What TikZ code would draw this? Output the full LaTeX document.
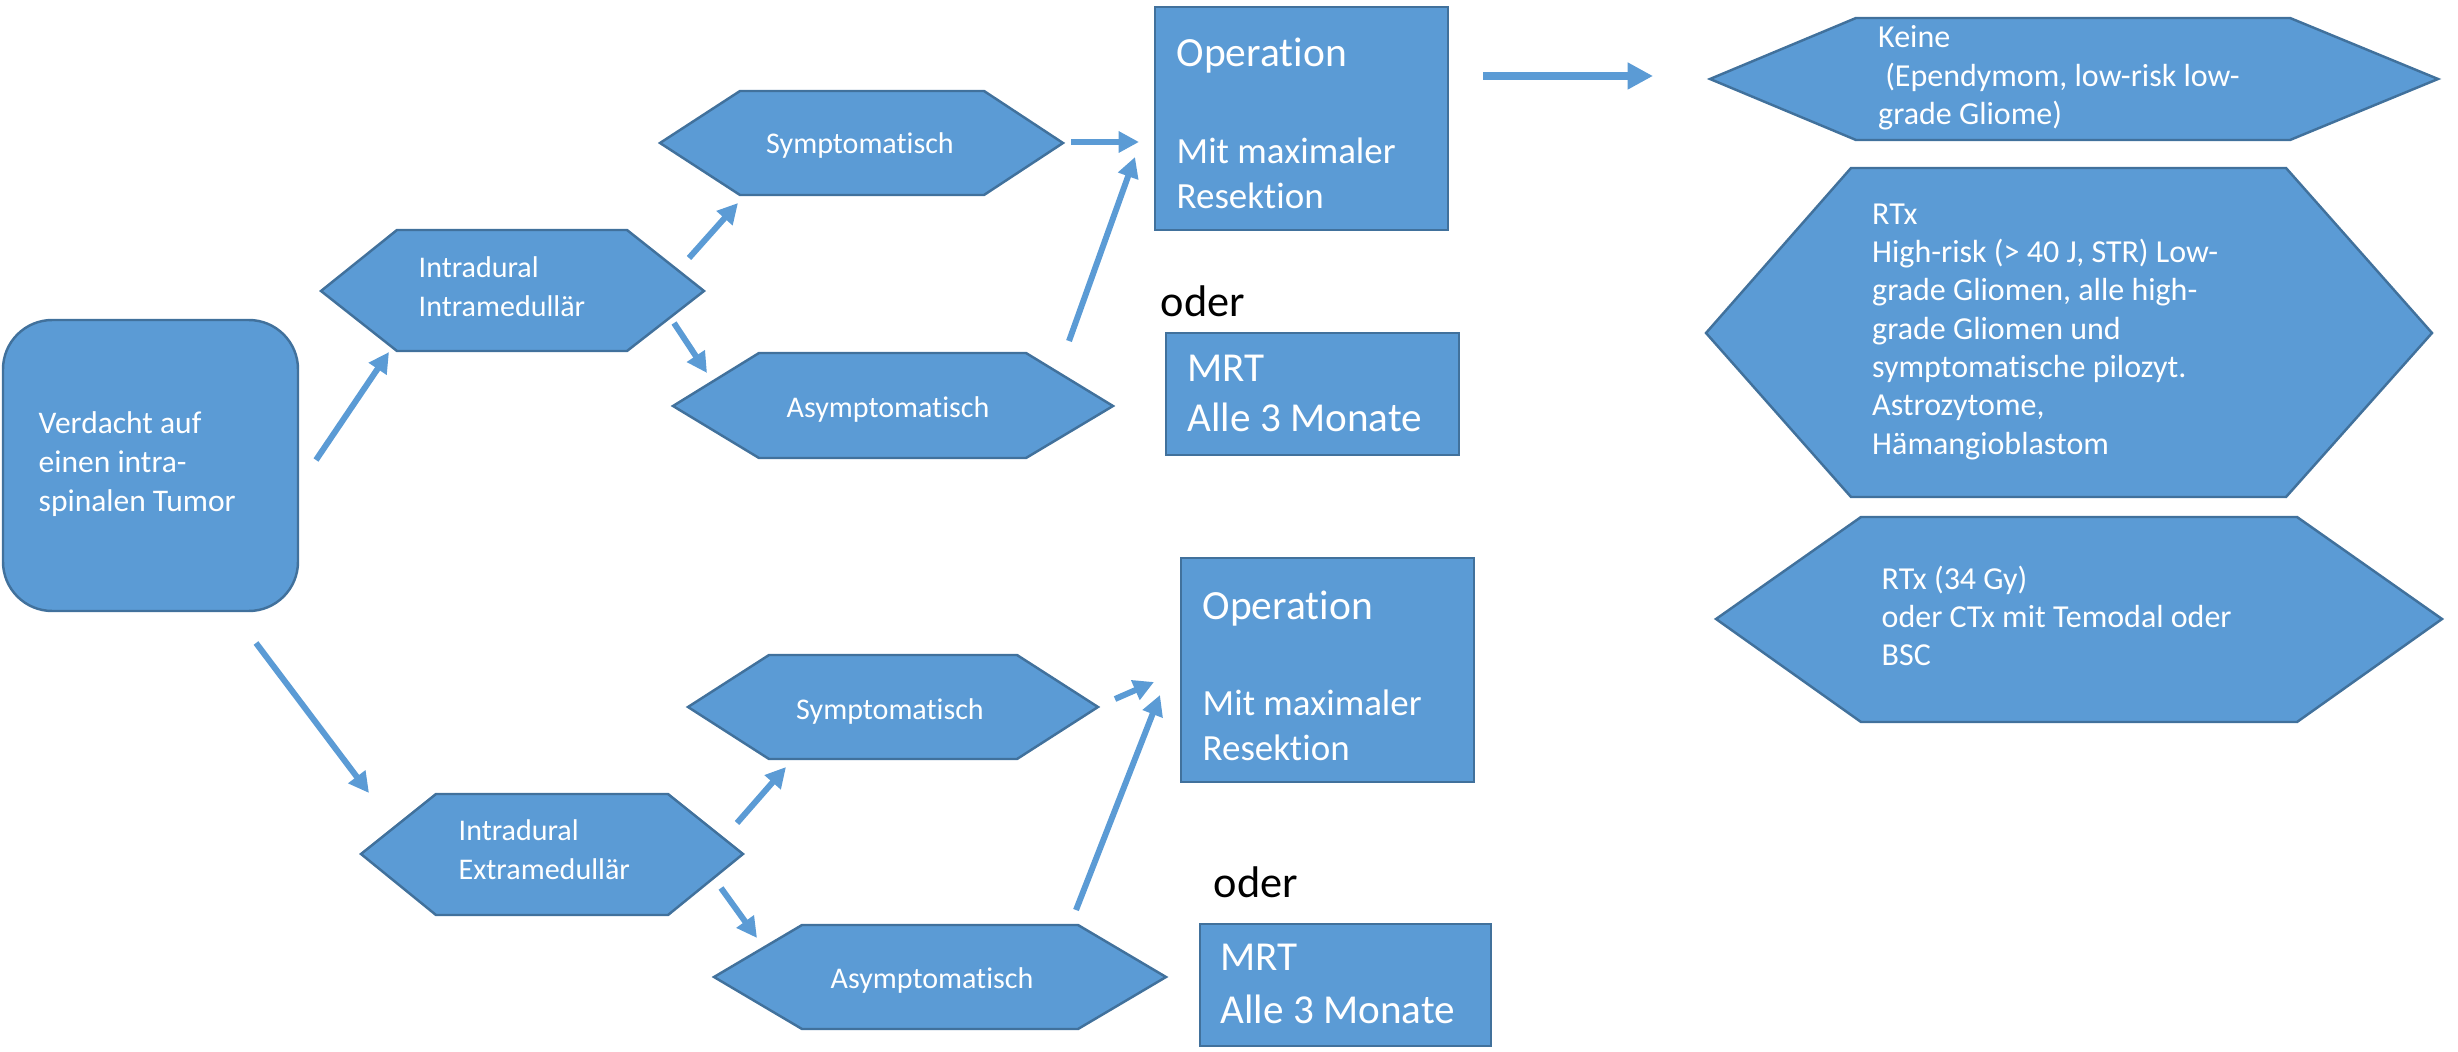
\documentclass[tikz,border=0pt]{standalone}
\usepackage{fontspec}
\setmainfont{Carlito}[Ligatures=NoCommon]
\usetikzlibrary{arrows.meta}
\definecolor{boxfill}{HTML}{5B9BD5}
\definecolor{boxline}{HTML}{41719C}
\definecolor{arrowc}{HTML}{5B9BD5}
\begin{document}
\begin{tikzpicture}[x=0.01cm,y=-0.01cm,
  shapebox/.style={fill=boxfill,draw=boxline,line width=0.7pt},
  hexlabel/.style={text=white,inner sep=0pt,font=\fontsize{8.54}{10.95}\selectfont},
  blocklabel/.style={text=white,inner sep=0pt,align=left,anchor=north west,execute at begin node=\strut},
  flow/.style={draw=arrowc,line width=1.7pt,-{Triangle[length=5.8pt,width=5.8pt]}},
  bigflow/.style={draw=arrowc,line width=2.3pt,-{Triangle[length=7.2pt,width=7.2pt]}},
  oderlabel/.style={text=black,inner sep=0pt,anchor=base west,font=\fontsize{12.6}{14}\selectfont}
]
\useasboundingbox (0,0) rectangle (2458,1052);

% ---- start box
\draw[shapebox,rounded corners=14pt] (3,320) rectangle (298,611);
\node[blocklabel,font=\fontsize{8.96}{11.1}\selectfont] (verdacht) at (38,411) {Verdacht auf\\einen intra-\\spinalen Tumor};

% ---- top group
\draw[shapebox] (321,291) -- (397,230) -- (627,230) -- (704,291) -- (627,351) -- (397,351) -- cycle;
\node[blocklabel,font=\fontsize{8.54}{10.95}\selectfont] (intramed) at (418,256) {Intradural\\Intramedullär};

\draw[shapebox] (660,143) -- (740,91) -- (984,91) -- (1063,143) -- (984,195) -- (740,195) -- cycle;
\node[hexlabel,anchor=base] (sym1) at (860,154) {Symptomatisch};

\draw[shapebox] (673,406) -- (759,353) -- (1026,353) -- (1113,406) -- (1026,458) -- (759,458) -- cycle;
\node[hexlabel,anchor=base] (asym1) at (888,417) {Asymptomatisch};

\draw[shapebox] (1155,7) rectangle (1448,230);
\node[blocklabel,font=\fontsize{10.5}{12.8}\selectfont] (op1) at (1176,37.5) {{\fontsize{11.8}{12.8}\selectfont Operation}\\[14.8pt]Mit maximaler\\Resektion};

\node[oderlabel] (oder1) at (1160,317) {oder};

\draw[shapebox] (1166,333) rectangle (1459,455);
\node[blocklabel,font=\fontsize{11.7}{14.3}\selectfont] (mrt1) at (1187,354) {MRT\\Alle 3 Monate};

% ---- right column
\draw[shapebox] (1710,79) -- (1856,18) -- (2290,18) -- (2438,79) -- (2290,140) -- (1856,140) -- cycle;
\node[blocklabel,font=\fontsize{9.1}{10.9}\selectfont] (keine) at (1877.5,25) {Keine\\\hspace*{0.22em}(Ependymom, low-risk low-\\grade Gliome)};

\draw[shapebox] (1706,333) -- (1851,168) -- (2286,168) -- (2432,333) -- (2286,497) -- (1851,497) -- cycle;
\node[blocklabel,font=\fontsize{9.1}{10.9}\selectfont] (rtx) at (1871.5,203) {RTx\\High-risk (> 40 J, STR) Low-\\grade Gliomen, alle high-\\grade Gliomen und\\symptomatische pilozyt.\\Astrozytome,\\Hämangioblastom};

\draw[shapebox] (1716,619) -- (1861,517) -- (2297,517) -- (2442,619) -- (2297,722) -- (1861,722) -- cycle;
\node[blocklabel,font=\fontsize{9.1}{10.9}\selectfont] (rtx34) at (1881,565) {RTx (34 Gy)\\oder CTx mit Temodal oder\\BSC};

% ---- bottom group
\draw[shapebox] (361,854) -- (436,794) -- (668,794) -- (743,854) -- (668,915) -- (436,915) -- cycle;
\node[blocklabel,font=\fontsize{8.54}{10.95}\selectfont] (extramed) at (458,819) {Intradural\\Extramedullär};

\draw[shapebox] (688,707) -- (769,655) -- (1017,655) -- (1098,707) -- (1017,759) -- (769,759) -- cycle;
\node[hexlabel,anchor=base] (sym2) at (890,719) {Symptomatisch};

\draw[shapebox] (714,977) -- (802,925) -- (1078,925) -- (1166,977) -- (1078,1029) -- (802,1029) -- cycle;
\node[hexlabel,anchor=base] (asym2) at (932,988) {Asymptomatisch};

\draw[shapebox] (1181,558) rectangle (1474,782);
\node[blocklabel,font=\fontsize{10.5}{12.8}\selectfont] (op2) at (1202,590.5) {{\fontsize{11.8}{12.8}\selectfont Operation}\\[14.5pt]Mit maximaler\\Resektion};

\node[oderlabel] (oder2) at (1213,897) {oder};

\draw[shapebox] (1200,924) rectangle (1491,1046);
\node[blocklabel,font=\fontsize{11.7}{15.08}\selectfont] (mrt2) at (1220,943) {MRT\\Alle 3 Monate};

% ---- connector end points
\coordinate (a1s) at (316,460);  \coordinate (a1e) at (389,352);
\coordinate (a2s) at (689,258);  \coordinate (a2e) at (738,203);
\coordinate (a3s) at (674,323);  \coordinate (a3e) at (707,373);
\coordinate (a4s) at (1071,142); \coordinate (a4e) at (1139,142);
\coordinate (a5s) at (1069,341); \coordinate (a5e) at (1135,157);
\coordinate (a6s) at (1483,76);  \coordinate (a6e) at (1653,76);
\coordinate (b1s) at (256,643);  \coordinate (b1e) at (369,793);
\coordinate (b2s) at (737,823);  \coordinate (b2e) at (786,767);
\coordinate (b3s) at (721,888);  \coordinate (b3e) at (757,938);
\coordinate (b4s) at (1115,699); \coordinate (b4e) at (1154,682);
\coordinate (b5s) at (1076,910); \coordinate (b5e) at (1160,695);

\draw[flow] (a1s) -- (a1e);
\draw[flow] (a2s) -- (a2e);
\draw[flow] (a3s) -- (a3e);
\draw[flow] (a4s) -- (a4e);
\draw[flow] (a5s) -- (a5e);
\draw[bigflow] (a6s) -- (a6e);
\draw[flow] (b1s) -- (b1e);
\draw[flow] (b2s) -- (b2e);
\draw[flow] (b3s) -- (b3e);
\draw[flow] (b4s) -- (b4e);
\draw[flow] (b5s) -- (b5e);
\end{tikzpicture}
\end{document}
